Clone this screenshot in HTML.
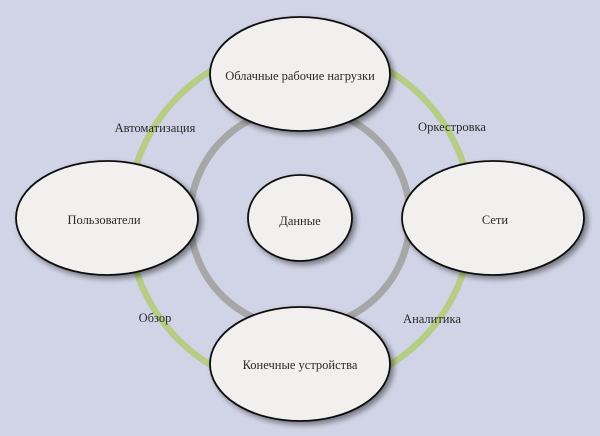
<!DOCTYPE html>
<html><head><meta charset="utf-8"><style>
html,body{margin:0;padding:0;background:#d1d4e6;}
svg{display:block;}
text{font-family:"Liberation Serif","DejaVu Serif",serif;font-size:12.5px;fill:#2a2a2a;text-anchor:middle;}
</style></head><body>
<svg width="600" height="436" viewBox="0 0 600 436" xmlns="http://www.w3.org/2000/svg">
<defs>
<filter id="sh" x="-20%" y="-20%" width="150%" height="150%">
<feGaussianBlur in="SourceAlpha" stdDeviation="3"/>
<feOffset dx="3" dy="3" result="b"/>
<feComponentTransfer><feFuncA type="linear" slope="0.45"/></feComponentTransfer>
<feMerge><feMergeNode/><feMergeNode in="SourceGraphic"/></feMerge>
</filter>
</defs>
<rect width="600" height="436" fill="#d1d4e6"/>
<circle cx="300" cy="218" r="172" fill="none" stroke="#b5cd84" stroke-width="6.5"/>
<circle cx="300" cy="218" r="110" fill="none" stroke="#a7a7a7" stroke-width="7"/>
<g fill="#f2f0ee" stroke="#111" stroke-width="1.8" filter="url(#sh)">
<ellipse cx="300" cy="74" rx="90" ry="57"/>
<ellipse cx="107" cy="218" rx="91" ry="57"/>
<ellipse cx="493" cy="218" rx="91" ry="57"/>
<ellipse cx="300" cy="364" rx="90" ry="57"/>
<ellipse cx="300" cy="218" rx="52" ry="43"/>
</g>
<text x="300" y="80">Облачные рабочие нагрузки</text>
<text x="104" y="224">Пользователи</text>
<text x="495" y="224">Сети</text>
<text x="300" y="225">Данные</text>
<text x="300" y="369">Конечные устройства</text>
<text x="155" y="132">Автоматизация</text>
<text x="452" y="131">Оркестровка</text>
<text x="155" y="322">Обзор</text>
<text x="432" y="323">Аналитика</text>
</svg>
</body></html>
